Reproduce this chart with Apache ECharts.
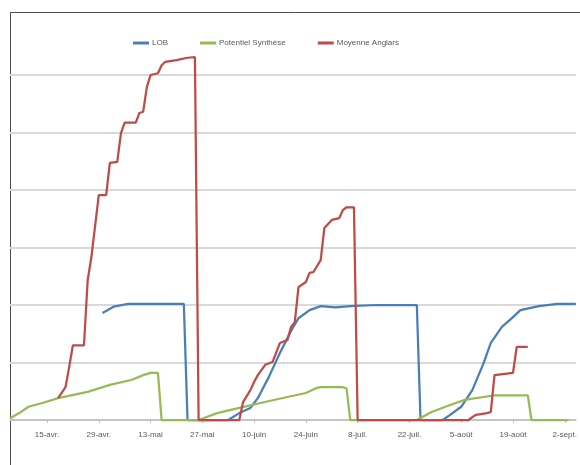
<!DOCTYPE html>
<html><head><meta charset="utf-8">
<script src="https://cdn.jsdelivr.net/npm/echarts@6/dist/echarts.min.js"></script>
<style>html,body{margin:0;padding:0;background:#fff}#c{width:580px;height:465px}</style>
</head><body><div id="c"></div><script>
// Date range shown (one category per day)
const startDate = '2013-04-05';
const dayCount = 154;
const monthNames = ['janv.','févr.','mars','avr.','mai','juin','juil.','août','sept.','oct.','nov.','déc.'];
const firstLabelDay = '04-15';
const labelStepDays = 14;

const seriesNames = ['LOB', 'Potentiel Synthèse', 'Moyenne Anglars'];

// LOB
const lobDates = ['04-30','05-03','05-07','05-22','05-23','06-03','06-06','06-09','06-11','06-14','06-17','06-20','06-22','06-25','06-28','07-02','07-06','07-13','07-24','07-25','07-31','08-02','08-05','08-08','08-11','08-13','08-16','08-19','08-21','08-26','08-31','09-05'];
const lobValues = [18.6,19.7,20.2,20.2,0,0,1.2,2.1,3.8,7.5,11.7,15.5,17.7,19.1,19.8,19.6,19.8,20.0,20.0,0,0,0.9,2.3,5.2,9.8,13.4,16.2,17.9,19.1,19.8,20.2,20.2];

// Potentiel Synthèse
const potDates = ['04-05','04-08','04-10','04-14','04-18','04-26','05-02','05-08','05-11','05-13','05-15','05-16','05-26','05-31','06-06','06-12','06-19','06-24','06-27','06-28','07-04','07-05','07-06','07-24','07-28','08-02','08-06','08-11','08-14','08-23','08-24','09-03'];
const potValues = [0.3,1.4,2.3,3.0,3.8,4.9,6.1,7.0,7.8,8.2,8.2,0,0,1.2,2.1,3.0,4.0,4.7,5.6,5.7,5.7,5.5,0,0,1.4,2.6,3.5,4.0,4.3,4.3,0,0];

// Moyenne Anglars
const moyDates = ['04-18','04-20','04-21','04-22','04-25','04-26','04-27','04-29','05-01','05-02','05-04','05-05','05-06','05-09','05-10','05-11','05-12','05-13','05-15','05-16','05-17','05-20','05-23','05-25','05-26','06-06','06-07','06-09','06-10','06-11','06-13','06-15','06-17','06-19','06-20','06-21','06-22','06-24','06-25','06-26','06-28','06-29','07-01','07-03','07-04','07-05','07-07','07-08','08-07','08-08','08-09','08-12','08-13','08-14','08-19','08-20','08-23'];
const moyValues = [3.8,5.7,9.2,13.0,13.0,24.3,28.3,39.1,39.1,44.7,44.9,49.9,51.7,51.7,53.4,53.6,57.9,60.0,60.3,61.7,62.3,62.6,63.0,63.1,0,0,3.1,5.2,6.6,7.8,9.6,10.1,13.4,13.9,16.2,17.0,23.1,24.0,25.6,25.7,27.8,33.4,34.8,35.1,36.5,37.0,37.0,0,0,0.5,0.9,1.2,1.4,7.8,8.2,12.7,12.7];

// build categories
const categories = [];
const d0 = new Date(startDate + 'T00:00:00Z');
for (let i = 0; i < dayCount; i++) {
  const d = new Date(d0.getTime() + i * 86400000);
  const mm = String(d.getUTCMonth() + 1).padStart(2, '0');
  const dd = String(d.getUTCDate()).padStart(2, '0');
  categories.push(mm + '-' + dd);
}
const firstLabelIdx = categories.indexOf(firstLabelDay);
const showIdx = (i) => i >= firstLabelIdx && (i - firstLabelIdx) % labelStepDays === 0;
const fmt = (c) => {
  const p = c.split('-');
  return parseInt(p[1], 10) + '-' + monthNames[parseInt(p[0], 10) - 1];
};
const pairs = (ds, vs) => ds.map((d, i) => [d, vs[i]]);

const colors = ['#4a7ebb', '#98b954', '#be4b48'];
const chart = echarts.init(document.getElementById('c'), null, {renderer: 'canvas'});
chart.setOption({
  animation: false,
  backgroundColor: '#fff',
  color: colors,
  graphic: [{
    type: 'rect', left: 8, top: 10, z: -1,
    shape: {x: 0.5, y: 0.5, width: 620, height: 520},
    style: {fill: 'none', stroke: '#4d4d4d', lineWidth: 1}
  }],
  legend: {
    left: 128, top: 34,
    itemWidth: 16, itemHeight: 3, itemGap: 32, icon: 'rect',
    textStyle: {fontFamily: 'Liberation Sans', fontSize: 8, color: '#595959', padding: [0, 0, 0, -2]},
    data: seriesNames
  },
  grid: {left: 10, right: 2, top: 75, bottom: 45, containLabel: false},
  xAxis: {
    type: 'category', data: categories, boundaryGap: false,
    axisLine: {lineStyle: {color: '#bfbfbf', width: 1.5}},
    axisTick: {interval: (i) => showIdx(i), length: 3, lineStyle: {color: '#bfbfbf'}},
    axisLabel: {interval: (i) => showIdx(i), formatter: fmt, margin: 11, hideOverlap: false,
      fontFamily: 'Liberation Sans', fontSize: 8, color: '#595959'},
    splitLine: {show: false}
  },
  yAxis: {
    type: 'value', min: 0, max: 60, interval: 10,
    axisLabel: {show: false}, axisTick: {show: false}, axisLine: {show: false},
    splitLine: {lineStyle: {color: '#d9d9d9', width: 2}}
  },
  series: [
    {name: seriesNames[0], type: 'line', data: pairs(lobDates, lobValues), symbol: 'none', clip: false, lineStyle: {width: 2.25}},
    {name: seriesNames[1], type: 'line', data: pairs(potDates, potValues), symbol: 'none', clip: false, lineStyle: {width: 2.25}},
    {name: seriesNames[2], type: 'line', data: pairs(moyDates, moyValues), symbol: 'none', clip: false, lineStyle: {width: 2.25}}
  ]
});
</script></body></html>
